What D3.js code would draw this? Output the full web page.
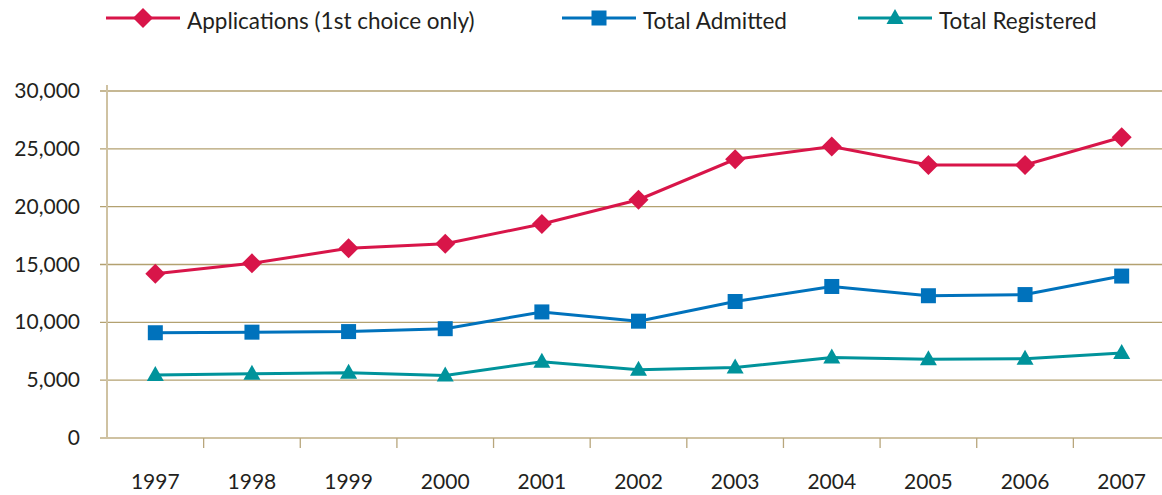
<!DOCTYPE html>
<html>
<head>
<meta charset="utf-8">
<script src="https://cdn.jsdelivr.net/npm/d3@7"></script>
<style>
  body { margin: 0; background: #fff; }
  svg text { font-family: Lato, "Open Sans", sans-serif; fill: #231f20; }
</style>
</head>
<body>
<script>
const years = ["1997", "1998", "1999", "2000", "2001", "2002", "2003", "2004", "2005", "2006", "2007"];
const applications = [14200, 15100, 16400, 16800, 18500, 20600, 24100, 25200, 23600, 23600, 26000];
const admitted = [9100, 9150, 9200, 9450, 10900, 10100, 11800, 13100, 12300, 12400, 14000];
const registered = [5450, 5550, 5650, 5400, 6600, 5900, 6100, 6950, 6800, 6850, 7350];
const yTicks = [0, 5000, 10000, 15000, 20000, 25000, 30000];
const seriesNames = ["Applications (1st choice only)", "Total Admitted", "Total Registered"];

const W = 1162, H = 495;
const svg = d3.select("body").append("svg")
  .attr("width", W)
  .attr("height", H);

const x = d3.scaleBand().domain(years).range([107, 1170]).padding(0);
const y = d3.scaleLinear().domain([0, 30000]).range([438, 91]);

// gridlines
svg.append("g")
  .selectAll("line")
  .data(yTicks.filter(d => d > 0))
  .enter().append("line")
    .attr("x1", 100).attr("x2", W)
    .attr("y1", d => y(d)).attr("y2", d => y(d))
    .attr("stroke", "#b3a170")
    .attr("stroke-width", 1.3);

// axes
svg.append("line")
  .attr("x1", 107).attr("x2", 107)
  .attr("y1", 85).attr("y2", 438)
  .attr("stroke", "#cfc2a2").attr("stroke-width", 2);
svg.append("line")
  .attr("x1", 100).attr("x2", W)
  .attr("y1", 438).attr("y2", 438)
  .attr("stroke", "#cfc2a2").attr("stroke-width", 2);

// x ticks between categories
svg.append("g")
  .selectAll("line")
  .data(years.slice(1))
  .enter().append("line")
    .attr("x1", d => x(d)).attr("x2", d => x(d))
    .attr("y1", 438).attr("y2", 448)
    .attr("stroke", "#b8a67c").attr("stroke-width", 1.3);

const fmt = d3.format(",");
svg.append("g")
  .selectAll("text")
  .data(yTicks)
  .enter().append("text")
    .attr("x", 80)
    .attr("y", d => y(d) + 7)
    .attr("text-anchor", "end")
    .attr("font-size", 21)
    .text(d => fmt(d));

svg.append("g")
  .selectAll("text")
  .data(years)
  .enter().append("text")
    .attr("x", d => x(d) + x.bandwidth() / 2)
    .attr("y", 489)
    .attr("text-anchor", "middle")
    .attr("font-size", 21)
    .text(d => d);

const series = [
  { name: seriesNames[0], values: applications, color: "#d81549", symbol: "diamond" },
  { name: seriesNames[1], values: admitted, color: "#0072bc", symbol: "square" },
  { name: seriesNames[2], values: registered, color: "#00939b", symbol: "triangle" }
];

function marker(sel, s) {
  if (s.symbol === "diamond") {
    sel.append("path").attr("d", "M0,-10L10,0L0,10L-10,0Z").attr("fill", s.color);
  } else if (s.symbol === "square") {
    sel.append("rect").attr("x", -7.5).attr("y", -7.5).attr("width", 15).attr("height", 15).attr("fill", s.color);
  } else {
    sel.append("path").attr("d", "M0,-9L8.5,6L-8.5,6Z").attr("fill", s.color);
  }
}

const line = d3.line()
  .x((d, i) => x(years[i]) + x.bandwidth() / 2)
  .y(d => y(d));

series.forEach(s => {
  const g = svg.append("g");
  g.append("path")
    .attr("d", line(s.values))
    .attr("fill", "none")
    .attr("stroke", s.color)
    .attr("stroke-width", 3);
  s.values.forEach((v, i) => {
    const m = g.append("g")
      .attr("transform", `translate(${x(years[i]) + x.bandwidth() / 2},${y(v)})`);
    marker(m, s);
  });
});

// legend
const legendX = [106, 562, 858];
series.forEach((s, i) => {
  const lg = svg.append("g").attr("transform", `translate(${legendX[i]},18)`);
  lg.append("line")
    .attr("x1", 0).attr("x2", 74)
    .attr("y1", 0).attr("y2", 0)
    .attr("stroke", s.color).attr("stroke-width", 3);
  marker(lg.append("g").attr("transform", "translate(37,0)"), s);
  lg.append("text")
    .attr("x", 81)
    .attr("y", 11)
    .attr("font-size", 22.5)
    .text(s.name);
});
</script>
</body>
</html>
